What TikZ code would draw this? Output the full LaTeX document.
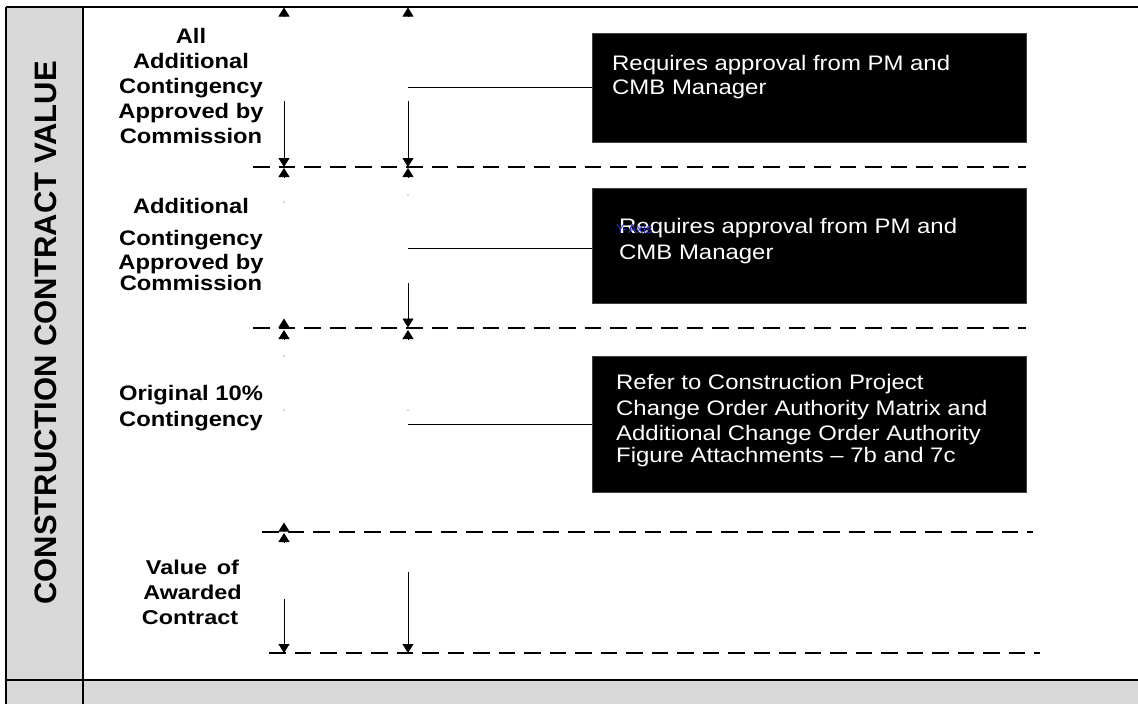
\documentclass[tikz,border=0pt]{standalone}
\usepackage{fontspec}
\setmainfont{Liberation Sans}
\newfontfamily\titlefont{Liberation Sans}
\newfontfamily\lblfont[FakeStretch=1.13]{Liberation Sans}
\newfontfamily\valfont[FakeStretch=1.17]{Liberation Sans}
\newfontfamily\boxfont[FakeStretch=1.14]{Liberation Sans}
\usetikzlibrary{arrows.meta}
\definecolor{panelgray}{HTML}{D9D9D9}
\definecolor{axisblue}{HTML}{2A2ACC}
\tikzset{
  lbl/.style={inner sep=0pt, anchor=base, font={\lblfont\bfseries\fontsize{21}{21}\selectfont}},
  vlbl/.style={inner sep=0pt, anchor=base, font={\valfont\bfseries\fontsize{20}{20}\selectfont}},
  btxt/.style={inner sep=0pt, anchor=base west, text=white, font={\boxfont\fontsize{21}{21}\selectfont}},
  blackbox/.style={anchor=north west, fill=black, draw=black!75, line width=0.6pt, inner sep=0pt, minimum width=434pt},
  level/.style={line width=2pt, dash pattern=on 16.5pt off 9pt},
  arr/.style={-{Triangle[width=11pt,length=9pt]}, line width=0.9pt},
  link/.style={line width=0.9pt},
  speck/.style={fill=black!70},
}
\begin{document}
\begin{tikzpicture}[x=1pt,y=-1pt]
\useasboundingbox (0,0) rectangle (1138,704);
% panels
\fill[panelgray] (6,7) rectangle (83,704);
\fill[panelgray] (6,680) rectangle (1138,704);
\draw[line width=2.4pt] (6,7) -- (1138,7);
\draw[line width=1.5pt] (6,7) -- (6,704);
\draw[line width=1.5pt] (83,7) -- (83,704);
\draw[line width=1.5pt] (6,680) -- (1138,680);
\node[rotate=90, inner sep=0pt, font={\titlefont\bfseries\fontsize{31}{31}\selectfont}] (title) at (45.5,333) {CONSTRUCTION CONTRACT VALUE};

% level lines
\coordinate (L1a) at (253,167); \coordinate (L1b) at (1026,167);
\coordinate (L2a) at (253,328); \coordinate (L2b) at (1026,328);
\coordinate (L3a) at (262,532); \coordinate (L3b) at (1033,532);
\coordinate (L4a) at (269,653); \coordinate (L4b) at (1040,653);
\draw[level] (L1a) -- (L1b);
\draw[level] (L2a) -- (L2b);
\draw[level] (L3a) -- (L3b);
\draw[level] (L4a) -- (L4b);

% labels block 1
\node[lbl] (a1) at (191,43) {All};
\node[lbl] (a2) at (191,68) {Additional};
\node[lbl] (a3) at (191,93) {Contingency};
\node[lbl] (a4) at (191,118) {Approved by};
\node[lbl] (a5) at (191,143) {Commission};
% labels block 2
\node[lbl] (b1l) at (191,213) {Additional};
\node[lbl] (b2l) at (191,245) {Contingency};
\node[lbl] (b3l) at (191,269) {Approved by};
\node[lbl] (b4l) at (191,290) {Commission};
% labels block 3
\node[lbl] (c1l) at (191,400) {Original 10\%};
\node[lbl] (c2l) at (191,426) {Contingency};
% labels block 4
\node[vlbl] (d1l) at (192.5,574) {Value\, of};
\node[vlbl] (d2l) at (192.5,599) {Awarded};
\node[vlbl] (d3l) at (190,624) {Contract};

% black boxes
\node[blackbox, minimum height=109pt] (box1) at (592,33) {};
\node[blackbox, minimum height=115pt] (box2) at (592,188) {};
\node[blackbox, minimum height=136pt] (box3) at (592,356) {};
\node[btxt] (t1a) at (612,70) {Requires approval from PM and};
\node[btxt] (t1b) at (612,94) {CMB Manager};
\node[btxt] (t2a) at (619,233) {Requires approval from PM and};
\node[btxt] (t2b) at (619,259) {CMB Manager};
\node[inner sep=0pt, anchor=base west, text=axisblue, font={\fontsize{13}{13}\selectfont}] (yaxis) at (616,233) {Y-Axis};
\node[btxt] (t3a) at (616,389) {Refer to Construction Project};
\node[btxt] (t3b) at (616,415) {Change Order Authority Matrix and};
\node[btxt] (t3c) at (616,440) {Additional Change Order Authority};
\node[btxt] (t3d) at (616,462) {Figure Attachments – 7b and 7c};

% connectors to boxes
\coordinate (s1) at (408,87);
\coordinate (s2) at (408,248);
\coordinate (s3) at (408,424);
\draw[link] (s1) -- (s1 -| box1.west);
\draw[link] (s2) -- (s2 -| box2.west);
\draw[link] (s3) -- (s3 -| box3.west);

% top arrow tips
\draw[arr] (284,17) -- (284,7.5);
\draw[arr] (408,17) -- (408,7.5);
% level 1
\coordinate (p1) at (284,101); \coordinate (q1) at (408,101);
\draw[arr] (p1) -- (p1 |- L1a);
\draw[arr] (q1) -- (q1 |- L1a);
\draw[arr] (284,177.5) -- (284,168);
\draw[arr] (408,177.5) -- (408,168);
% level 2
\coordinate (q2) at (408,283);
\draw[arr] (q2) -- (408,327.5);
\draw[arr] (284,328) -- (284,318.5);
\draw[arr] (284,340) -- (284,330);
\draw[arr] (408,340) -- (408,330);
% level 3
\draw[arr] (284,532) -- (284,522.5);
\draw[arr] (284,542) -- (284,533);
% level 4
\coordinate (p4) at (284,599); \coordinate (q4) at (408,572);
\draw[arr] (p4) -- (p4 |- L4a);
\draw[arr] (q4) -- (q4 |- L4a);

% specks
\fill[speck] (284,202) circle (0.6pt);
\fill[speck] (408,195) circle (0.6pt);
\fill[speck] (284,356) circle (0.6pt);
\fill[speck] (284,410) circle (0.6pt);
\fill[speck] (408,410) circle (0.6pt);
\end{tikzpicture}
\end{document}
